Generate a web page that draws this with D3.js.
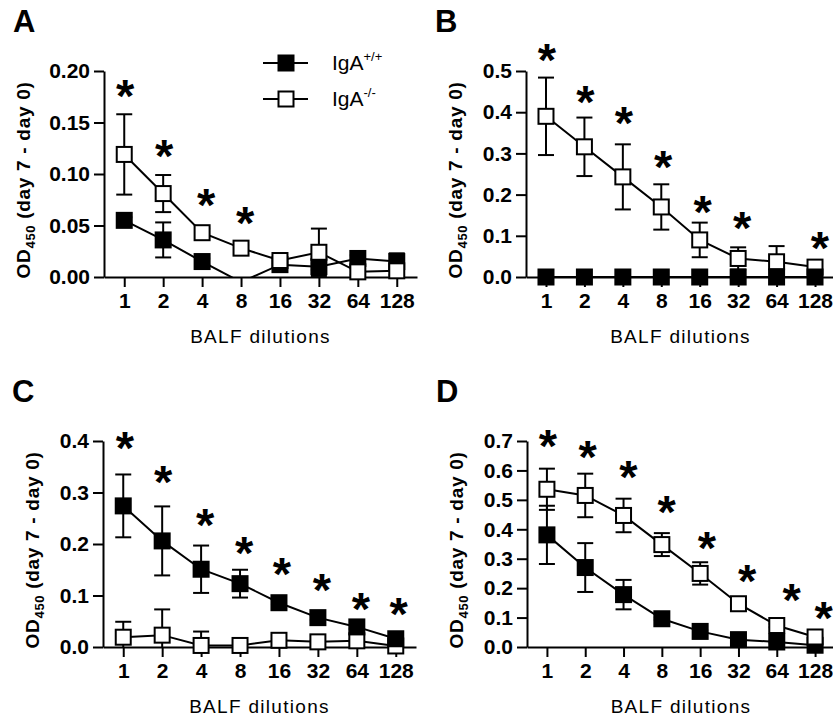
<!DOCTYPE html>
<html>
<head>
<meta charset="utf-8">
<script src="https://cdn.jsdelivr.net/npm/d3@7"></script>
<style>
  body { margin: 0; background: #fff; }
  svg { display: block; }
  text { font-family: "Liberation Sans", Arial, Helvetica, sans-serif; fill: #000; }
</style>
</head>
<body>
<script>
// x categories (BALF dilutions)
var dilutions = [1, 2, 4, 8, 16, 32, 64, 128];
var seriesNames = ["IgA+/+", "IgA-/-"];

// Panel A
var wtA    = [0.055, 0.036, 0.015, -0.005, 0.012, 0.010, 0.018, 0.015];
var wtAErr = [0.003, 0.017, 0.003, 0.000, 0.003, 0.003, 0.003, 0.008];
var koA    = [0.119, 0.081, 0.043, 0.028, 0.016, 0.024, 0.005, 0.006];
var koAErr = [0.039, 0.018, 0.004, 0.003, 0.003, 0.023, 0.003, 0.004];
var yTicksA = [0, 0.05, 0.10, 0.15, 0.20];
var starXA = [0, 1, 2.08, 3.08];
var starYA = [0.185, 0.127, 0.080, 0.062];

// Panel B
var wtB    = [0, 0, 0, 0, 0, 0, 0, 0];
var wtBErr = [0, 0, 0, 0, 0, 0, 0, 0];
var koB    = [0.390, 0.316, 0.243, 0.170, 0.090, 0.045, 0.037, 0.024];
var koBErr = [0.094, 0.071, 0.079, 0.055, 0.042, 0.027, 0.038, 0.004];
var yTicksB = [0, 0.1, 0.2, 0.3, 0.4, 0.5];
var starXB = [0, 1, 2, 3.02, 4.05, 5.08, 7.1];
var starYB = [0.551, 0.450, 0.397, 0.292, 0.183, 0.142, 0.094];

// Panel C
var wtC    = [0.274, 0.206, 0.151, 0.123, 0.086, 0.057, 0.039, 0.016];
var wtCErr = [0.061, 0.067, 0.046, 0.027, 0.004, 0.004, 0.004, 0.004];
var koC    = [0.019, 0.023, 0.003, 0.003, 0.013, 0.010, 0.012, 0.002];
var koCErr = [0.030, 0.050, 0.027, 0.003, 0.003, 0.003, 0.003, 0.002];
var yTicksC = [0, 0.1, 0.2, 0.3, 0.4];
var starXC = [0.02, 1, 2.08, 3.08, 4.05, 5.08, 6.08, 7.05];
var starYC = [0.405, 0.340, 0.256, 0.201, 0.161, 0.130, 0.093, 0.083];

// Panel D
var wtD    = [0.381, 0.270, 0.178, 0.096, 0.053, 0.025, 0.017, 0.006];
var wtDErr = [0.099, 0.083, 0.050, 0.004, 0.004, 0.004, 0.004, 0.004];
var koD    = [0.536, 0.515, 0.447, 0.348, 0.250, 0.147, 0.073, 0.034];
var koDErr = [0.070, 0.074, 0.057, 0.039, 0.038, 0.006, 0.006, 0.006];
var yTicksD = [0, 0.1, 0.2, 0.3, 0.4, 0.5, 0.6, 0.7];
var starXD = [0, 1.04, 2.1, 3.1, 4.15, 5.2, 6.36, 7.2];
var starYD = [0.717, 0.679, 0.611, 0.494, 0.369, 0.259, 0.194, 0.133];

var W = 833, H = 720;
var plotH = 206;
var markSize = 17;

var svg = d3.select("body").append("svg")
    .attr("width", W)
    .attr("height", H);

// layout of the four panels
var panels = [
  {letter: "A", left: 104, w: 313, base: 277, wt: wtA, wtErr: wtAErr, ko: koA, koErr: koAErr,
   ticks: yTicksA, fmt: ".2f", starX: starXA, starY: starYA, labelOff: 81, legend: true, koTop: true},
  {letter: "B", left: 526, w: 309, base: 277, wt: wtB, wtErr: wtBErr, ko: koB, koErr: koBErr,
   ticks: yTicksB, fmt: ".1f", starX: starXB, starY: starYB, labelOff: 71, koTop: false},
  {letter: "C", left: 103, w: 313, base: 647, wt: wtC, wtErr: wtCErr, ko: koC, koErr: koCErr,
   ticks: yTicksC, fmt: ".1f", starX: starXC, starY: starYC, labelOff: 71, koTop: false},
  {letter: "D", left: 527, w: 308, base: 647, wt: wtD, wtErr: wtDErr, ko: koD, koErr: koDErr,
   ticks: yTicksD, fmt: ".1f", starX: starXD, starY: starYD, labelOff: 71, koTop: true}
];

panels.forEach(function(p, pi) {
  drawPanel(p, pi);
});

function drawPanel(p, pi) {
  var g = svg.append("g");
  var x = d3.scaleLinear()
      .domain([-0.52, dilutions.length - 1 + 0.52])
      .range([p.left, p.left + p.w]);
  var y = d3.scaleLinear()
      .domain([0, d3.max(p.ticks)])
      .range([p.base, p.base - plotH]);

  // panel letter
  g.append("text")
      .attr("x", p.left - 91)
      .attr("y", p.base - 245)
      .style("font-size", "31px")
      .style("font-weight", "bold")
      .text(p.letter);

  // y axis
  var yAxis = g.append("g")
      .attr("transform", "translate(" + p.left + ",0)")
      .call(d3.axisLeft(y).tickValues(p.ticks).tickSize(10).tickSizeOuter(0)
            .tickPadding(4).tickFormat(d3.format(p.fmt)));
  // x axis
  var xAxis = g.append("g")
      .attr("transform", "translate(0," + p.base + ")")
      .call(d3.axisBottom(x).tickValues(d3.range(dilutions.length)).tickSize(10)
            .tickSizeOuter(0).tickPadding(6).tickFormat(function(i) { return dilutions[i]; }));
  [yAxis, xAxis].forEach(function(a) {
    a.selectAll("path, line").attr("stroke", "#000").attr("stroke-width", 2);
    a.selectAll("text").style("font-size", "21px").style("font-weight", "bold")
        .style("font-family", "'Liberation Sans', Arial, sans-serif").attr("fill", "#000");
  });

  // y axis title
  var yt = g.append("text")
      .attr("transform", "translate(" + (p.left - p.labelOff) + "," + (p.base - plotH / 2 + 6) + ") rotate(-90)")
      .attr("text-anchor", "middle")
      .attr("dy", "0.35em")
      .style("font-size", "19px")
      .style("font-weight", "bold")
      .style("letter-spacing", "0.7px");
  yt.append("tspan").text("OD");
  yt.append("tspan").attr("dy", 5).style("font-size", "13px").text("450");
  yt.append("tspan").attr("dy", -5).text(" (day 7 - day 0)");

  // x axis title
  g.append("text")
      .attr("x", p.left + p.w / 2)
      .attr("y", p.base + 66)
      .attr("text-anchor", "middle")
      .style("font-size", "19px")
      .style("letter-spacing", "1.3px")
      .text("BALF dilutions");

  // clip lines at the x axis
  var clipId = "clip" + pi;
  g.append("clipPath").attr("id", clipId)
    .append("rect")
      .attr("x", p.left - 30).attr("y", p.base - plotH - 60)
      .attr("width", p.w + 60).attr("height", plotH + 60);

  var wtSeries = {vals: p.wt, errs: p.wtErr, filled: true};
  var koSeries = {vals: p.ko, errs: p.koErr, filled: false};
  var order = p.koTop ? [wtSeries, koSeries] : [koSeries, wtSeries];
  order.forEach(function(s) { drawSeries(g, s, x, y, clipId); });

  // asterisks
  g.selectAll(".star")
    .data(p.starX.map(function(d, i) { return [d, p.starY[i]]; }))
    .enter().append("text")
      .attr("class", "star")
      .attr("x", function(d) { return x(d[0]) + 1; })
      .attr("y", function(d) { return y(d[1]) + 26; })
      .attr("text-anchor", "middle")
      .style("font-size", "47px")
      .style("font-weight", "bold")
      .text("*");

  if (p.legend) drawLegend(g);
}

function drawSeries(g, s, x, y, clipId) {
  var pts = s.vals.map(function(v, i) { return {i: i, v: v, e: s.errs[i]}; });
  var line = d3.line()
      .x(function(d) { return x(d.i); })
      .y(function(d) { return y(d.v); });

  // error bars
  var eb = g.append("g").attr("clip-path", "url(#" + clipId + ")");
  pts.filter(function(d) { return d.e > 0 && d.v >= 0; }).forEach(function(d) {
    var cx = x(d.i), top = y(d.v + d.e), bot = y(Math.max(0, d.v - d.e));
    eb.append("line").attr("x1", cx).attr("x2", cx).attr("y1", top).attr("y2", bot);
    eb.append("line").attr("x1", cx - 8).attr("x2", cx + 8).attr("y1", top).attr("y2", top);
    if (d.v - d.e >= 0)
      eb.append("line").attr("x1", cx - 8).attr("x2", cx + 8).attr("y1", bot).attr("y2", bot);
  });
  eb.selectAll("line").attr("stroke", "#000").attr("stroke-width", 2);

  g.append("path")
      .datum(pts)
      .attr("clip-path", "url(#" + clipId + ")")
      .attr("d", line)
      .attr("fill", "none")
      .attr("stroke", "#000")
      .attr("stroke-width", 2);

  // square markers, hidden when below the axis
  var sz = s.filled ? markSize : markSize - 2;
  g.selectAll(null)
    .data(pts.filter(function(d) { return d.v >= 0; }))
    .enter().append("rect")
      .attr("x", function(d) { return x(d.i) - sz / 2; })
      .attr("y", function(d) { return y(d.v) - sz / 2; })
      .attr("width", sz)
      .attr("height", sz)
      .attr("fill", s.filled ? "#000" : "#fff")
      .attr("stroke", "#000")
      .attr("stroke-width", s.filled ? 0 : 2);
}

function drawLegend(g) {
  var rows = [{name: seriesNames[0], filled: true, y: 63, sup: "+/+"},
              {name: seriesNames[1], filled: false, y: 99, sup: "-/-"}];
  rows.forEach(function(r) {
    g.append("line")
        .attr("x1", 263).attr("x2", 308).attr("y1", r.y).attr("y2", r.y)
        .attr("stroke", "#000").attr("stroke-width", 2);
    var sz = r.filled ? markSize : markSize - 2;
    g.append("rect")
        .attr("x", 286 - sz / 2).attr("y", r.y - sz / 2)
        .attr("width", sz).attr("height", sz)
        .attr("fill", r.filled ? "#000" : "#fff")
        .attr("stroke", "#000").attr("stroke-width", r.filled ? 0 : 2);
    var t = g.append("text")
        .attr("x", 332).attr("y", r.y + 7)
        .style("font-size", "21px");
    t.append("tspan").text("IgA");
    t.append("tspan").attr("dy", -9).style("font-size", "13px").text(r.sup);
  });
}
</script>
</body>
</html>
